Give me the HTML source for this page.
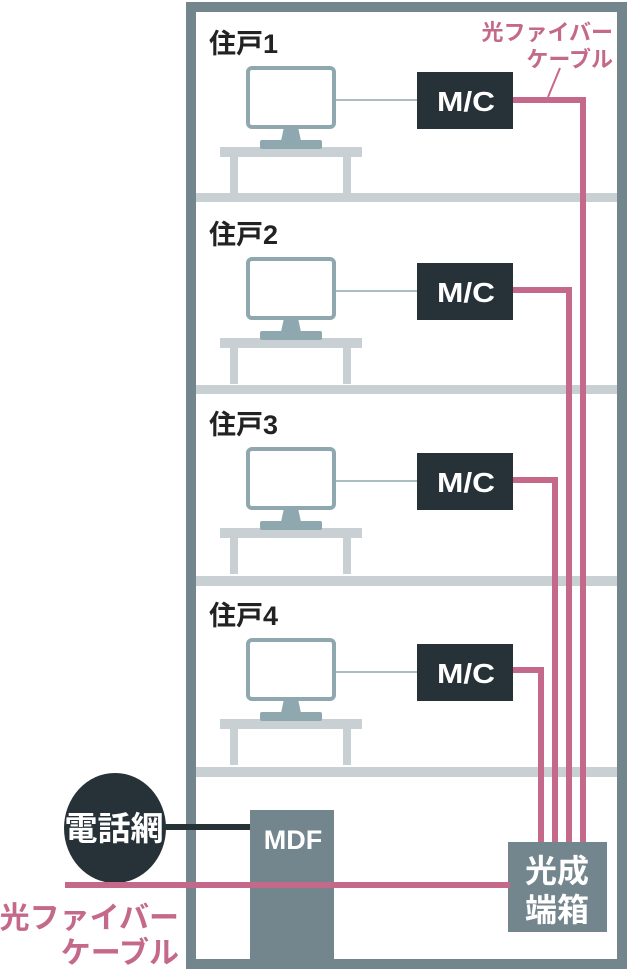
<!DOCTYPE html>
<html><head><meta charset="utf-8"><style>
html,body{margin:0;padding:0;background:#fff;}
svg{display:block;}
text{font-family:"Liberation Sans","Noto Sans CJK JP",sans-serif;font-weight:bold;}
</style></head><body>
<svg width="630" height="970" viewBox="0 0 630 970" xmlns="http://www.w3.org/2000/svg">
<rect x="0" y="0" width="630" height="970" fill="#fff"/>
<rect x="191" y="7" width="431" height="957" fill="none" stroke="#74868d" stroke-width="10"/>
<g fill="#c8d0d3">
<rect x="196" y="193" width="421" height="9"/>
<rect x="196" y="385" width="421" height="9"/>
<rect x="196" y="576" width="421" height="10"/>
<rect x="196" y="767" width="421" height="10"/>
</g>
<defs>
<g id="unit">
  <rect x="220" y="-46" width="142" height="10" fill="#c8d0d3"/>
  <rect x="230" y="-36" width="8" height="36" fill="#c8d0d3"/>
  <rect x="343" y="-36" width="8" height="36" fill="#c8d0d3"/>
  <path d="M284,-66 L298,-66 L301,-52 L281,-52 Z" fill="#8fa7ae"/>
  <rect x="260" y="-53" width="62" height="9" rx="2" fill="#8fa7ae"/>
  <rect x="248" y="-125" width="86" height="59" rx="4" fill="#fff" stroke="#8fa7ae" stroke-width="4"/>
  <line x1="336" y1="-93" x2="417" y2="-93" stroke="#8fa7ae" stroke-width="1.5"/>
  <rect x="417" y="-121" width="96" height="57" fill="#263238"/>
  <text x="466" y="-82" font-size="28" fill="#fff" text-anchor="middle" textLength="58" lengthAdjust="spacingAndGlyphs">M/C</text>
</g>
</defs>
<use href="#unit" transform="translate(0,193)"/>
<use href="#unit" transform="translate(0,384)"/>
<use href="#unit" transform="translate(0,574)"/>
<use href="#unit" transform="translate(0,765)"/>
<g font-size="27" fill="#222">
<text x="209" y="53">住戸1</text>
<text x="209" y="244">住戸2</text>
<text x="209" y="434">住戸3</text>
<text x="209" y="625">住戸4</text>
</g>
<g fill="none" stroke="#c4698a" stroke-width="6">
<polyline points="513,100 583,100 583,845"/>
<polyline points="513,290 569,290 569,845"/>
<polyline points="513,480 555,480 555,845"/>
<polyline points="513,670 541,670 541,845"/>
</g>
<line x1="548" y1="97" x2="560" y2="68" stroke="#c4698a" stroke-width="2"/>
<g font-size="22" fill="#c4698a" text-anchor="end">
<text x="613" y="40">光ファイバー</text>
<text x="613" y="67">ケーブル</text>
</g>
<rect x="250" y="810" width="84" height="154" fill="#74868d"/>
<text x="293" y="849" font-size="27" fill="#fff" text-anchor="middle">MDF</text>
<line x1="160" y1="827" x2="250" y2="827" stroke="#263238" stroke-width="6"/>
<ellipse cx="115" cy="828" rx="51" ry="55" fill="#263238"/>
<text x="114" y="840" font-size="33" fill="#fff" text-anchor="middle">電話網</text>
<rect x="508" y="842" width="99" height="90" fill="#74868d"/>
<text x="557" y="882" font-size="32" fill="#fff" text-anchor="middle" font-weight="normal">光成</text>
<text x="557" y="921" font-size="32" fill="#fff" text-anchor="middle" font-weight="normal">端箱</text>
<line x1="65" y1="885" x2="510" y2="885" stroke="#c4698a" stroke-width="6"/>
<g font-size="30" fill="#c4698a" text-anchor="end">
<text x="179" y="928">光ファイバー</text>
<text x="179" y="963">ケーブル</text>
</g>
</svg>
</body></html>
